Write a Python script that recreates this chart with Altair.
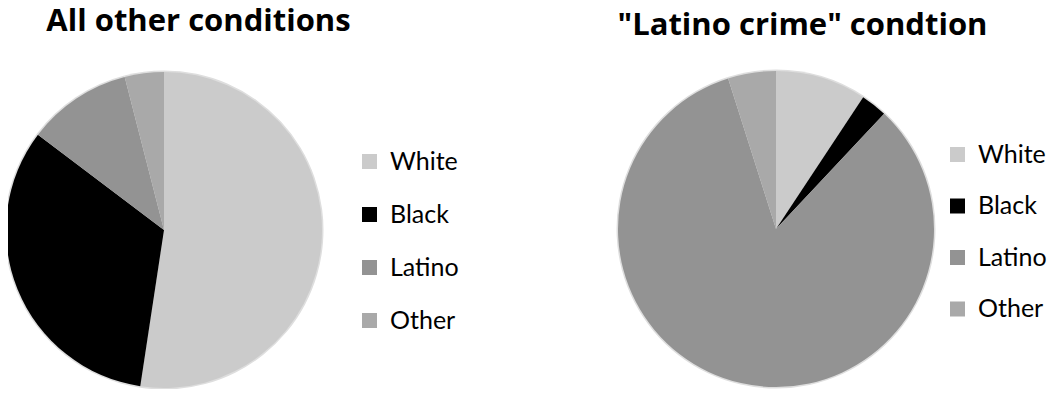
import altair as alt
import pandas as pd

groups = ["White", "Black", "Latino", "Other"]
left_values = [52.4, 32.9, 10.7, 4.0]
right_values = [9.3, 2.7, 83.1, 4.9]
colors = ["#cbcbcb", "#000000", "#939393", "#a9a9a9"]
titles = ["All other conditions", "\"Latino crime\" condtion"]


def pie_df(vals):
    return pd.DataFrame({"group": groups, "value": vals, "order": list(range(len(groups)))})


def pie(df, cx, cy, lx, ly, rowpad):
    base = alt.Chart(df)
    theta = alt.Theta("value:Q", stack=True)
    halo = base.mark_arc(radius=159.5, color="#dedede").encode(
        theta=theta, order=alt.Order("order:O"), x=alt.value(cx), y=alt.value(cy)
    )
    arcs = base.mark_arc(radius=158).encode(
        theta=theta,
        order=alt.Order("order:O"),
        color=alt.Color(
            "group:N",
            scale=alt.Scale(domain=groups, range=colors),
            legend=alt.Legend(
                title=None, orient="none", legendX=lx, legendY=ly,
                symbolType="square", symbolSize=225, symbolStrokeWidth=0,
                symbolOpacity=1, labelFont="Lato", labelFontSize=25,
                labelColor="#000000", labelOffset=8, rowPadding=rowpad, padding=0,
            ),
        ),
        x=alt.value(cx),
        y=alt.value(cy),
    )
    return halo, arcs


def title(t, x, y):
    return alt.Chart(pd.DataFrame({"t": [t]})).mark_text(
        font="Open Sans", fontSize=31, fontWeight="bold", align="center",
        baseline="alphabetic", color="#000000",
    ).encode(text="t:N", x=alt.value(x), y=alt.value(y))


lh, la = pie(pie_df(left_values), 156, 222, 349, 141, 27)
rh, ra = pie(pie_df(right_values), 768, 221, 937, 134, 25.5)

chart = alt.layer(
    lh, la, rh, ra, title(titles[0], 190.5, 23), title(titles[1], 794.5, 27)
).resolve_scale(color="independent", theta="independent").properties(
    width=1041, height=381, padding=0, autosize=alt.AutoSizeParams(type="none")
).configure_view(stroke=None)

chart.save("out.html", embed_options={"renderer": "svg", "actions": False})
